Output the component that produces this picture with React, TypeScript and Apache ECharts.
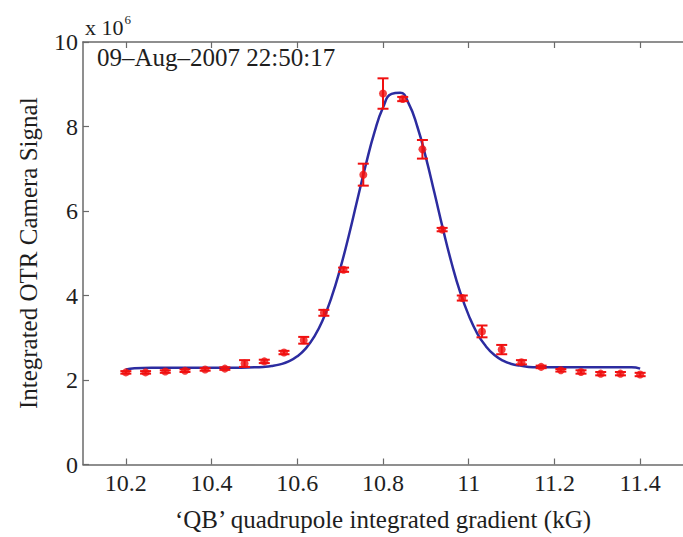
import React, { useEffect, useRef } from "react";
import * as echarts from "echarts";

// Measured points (QB gradient, kG) and signal (x 10^6) with error bars
const xData = [10.2, 10.246, 10.292, 10.338, 10.385, 10.431, 10.477, 10.523, 10.569, 10.615, 10.662, 10.708, 10.754, 10.8, 10.846, 10.892, 10.938, 10.985, 11.031, 11.077, 11.123, 11.169, 11.215, 11.262, 11.308, 11.354, 11.4];
const yData = [2.18, 2.18, 2.2, 2.22, 2.25, 2.27, 2.39, 2.44, 2.65, 2.94, 3.59, 4.61, 6.86, 8.78, 8.65, 7.46, 5.56, 3.94, 3.15, 2.72, 2.42, 2.31, 2.23, 2.19, 2.15, 2.15, 2.13];
const errData = [0.03, 0.03, 0.03, 0.03, 0.03, 0.03, 0.08, 0.04, 0.04, 0.08, 0.07, 0.05, 0.26, 0.36, 0.05, 0.22, 0.04, 0.06, 0.14, 0.11, 0.05, 0.03, 0.03, 0.04, 0.04, 0.04, 0.04];

// Fitted curve
const fitX = [10.2, 10.22, 10.26, 10.3, 10.35, 10.4, 10.45, 10.5, 10.52, 10.54, 10.56, 10.58, 10.6, 10.62, 10.64, 10.66, 10.68, 10.7, 10.72, 10.74, 10.76, 10.78, 10.8, 10.82, 10.84, 10.86, 10.88, 10.9, 10.92, 10.94, 10.96, 10.98, 11.0, 11.02, 11.04, 11.06, 11.08, 11.1, 11.12, 11.14, 11.16, 11.2, 11.25, 11.3, 11.35, 11.38, 11.4];
const fitY = [2.25, 2.28, 2.29, 2.29, 2.29, 2.29, 2.29, 2.3, 2.31, 2.33, 2.37, 2.44, 2.56, 2.75, 3.03, 3.43, 3.96, 4.63, 5.41, 6.26, 7.1, 7.86, 8.45, 8.77, 8.8, 8.54, 8.0, 7.27, 6.43, 5.57, 4.77, 4.08, 3.53, 3.1, 2.8, 2.59, 2.46, 2.38, 2.34, 2.31, 2.3, 2.3, 2.3, 2.3, 2.3, 2.3, 2.27];

const xTicks = [10.2, 10.4, 10.6, 10.8, 11.0, 11.2, 11.4];
const xTickLabels = ["10.2", "10.4", "10.6", "10.8", "11", "11.2", "11.4"];
const yTicks = [0, 2, 4, 6, 8, 10];

const title = "09–Aug–2007 22:50:17";
const xName = "‘QB’ quadrupole integrated gradient (kG)";
const yName = "Integrated OTR Camera Signal";

const FONT = "'Liberation Serif', 'Times New Roman', serif";
const RED = "#f01010";
const BLUE = "#2c2ca0";
const AXIS = "#6a6a6a";
const TEXT = "#1e1e1e";

export default function App() {
  const ref = useRef<HTMLDivElement>(null);
  useEffect(() => {
    if (!ref.current) return;
    const chart = echarts.init(ref.current, undefined, { renderer: "svg" });
    const pts = xData.map((x, i) => [x, yData[i], errData[i]]);
    const fit = fitX.map((x, i) => [x, fitY[i]]);
    const labelMap: Record<string, string> = {};
    xTicks.forEach((v, i) => (labelMap[v.toFixed(1)] = xTickLabels[i]));

    chart.setOption({
      animation: false,
      backgroundColor: "#ffffff",
      grid: { left: 83, right: -8, top: 42, bottom: 72, containLabel: false },
      xAxis: [
        {
          type: "value",
          min: 10.1,
          max: 11.5,
          position: "bottom",
          name: xName,
          nameLocation: "middle",
          nameGap: 55,
          nameTextStyle: { fontFamily: FONT, fontSize: 25, color: TEXT, verticalAlign: "middle" },
          axisLine: { show: true, onZero: false, lineStyle: { color: AXIS, width: 1.5 } },
          axisTick: { show: true, inside: true, length: 6, customValues: xTicks, lineStyle: { color: AXIS, width: 1.2 } },
          axisLabel: {
            show: true,
            customValues: xTicks,
            margin: 18,
            verticalAlign: "middle",
            fontFamily: FONT,
            fontSize: 24,
            color: TEXT,
            formatter: (v: number) => labelMap[v.toFixed(1)] ?? String(v),
          },
          splitLine: { show: false },
        },
        {
          type: "value",
          min: 10.1,
          max: 11.5,
          position: "top",
          axisLine: { show: true, onZero: false, lineStyle: { color: AXIS, width: 1.5 } },
          axisTick: { show: true, inside: true, length: 6, customValues: xTicks, lineStyle: { color: AXIS, width: 1.2 } },
          axisLabel: { show: false },
          splitLine: { show: false },
        },
      ],
      yAxis: {
        type: "value",
        min: 0,
        max: 10,
        interval: 2,
        name: yName,
        nameLocation: "middle",
        nameGap: 55,
        nameRotate: 90,
        nameTextStyle: { fontFamily: FONT, fontSize: 25, color: TEXT, verticalAlign: "middle" },
        axisLine: { show: true, lineStyle: { color: AXIS, width: 1.5 } },
        axisTick: { show: true, inside: true, length: 6, customValues: yTicks, lineStyle: { color: AXIS, width: 1.2 } },
        axisLabel: { show: true, margin: 5, fontFamily: FONT, fontSize: 24, color: TEXT },
        splitLine: { show: false },
      },
      graphic: [
        {
          type: "text",
          x: 97,
          y: 57.5,
          style: { text: title, font: `25px ${FONT}`, fill: TEXT, align: "left", verticalAlign: "middle", textAlign: "left", textVerticalAlign: "middle" },
        },
        {
          type: "text",
          x: 85,
          y: 27.5,
          style: { text: "x 10", font: `22px ${FONT}`, fill: TEXT, align: "left", verticalAlign: "middle", textAlign: "left", textVerticalAlign: "middle" },
        },
        {
          type: "text",
          x: 124.5,
          y: 19,
          style: { text: "6", font: `13px ${FONT}`, fill: TEXT, align: "left", verticalAlign: "middle", textAlign: "left", textVerticalAlign: "middle" },
        },
      ],
      series: [
        {
          type: "line",
          data: fit,
          smooth: true,
          symbol: "none",
          lineStyle: { color: BLUE, width: 2.5 },
          z: 2,
        },
        {
          type: "custom",
          data: pts,
          encode: { x: 0, y: 1 },
          z: 3,
          renderItem: (params: any, api: any) => {
            const x = api.value(0);
            const y = api.value(1);
            const e = api.value(2);
            const top = api.coord([x, y + e]);
            const bot = api.coord([x, y - e]);
            const hw = 5.5;
            const st = { stroke: RED, lineWidth: 2 };
            return {
              type: "group",
              children: [
                { type: "line", shape: { x1: top[0], y1: top[1], x2: bot[0], y2: bot[1] }, style: st },
                { type: "line", shape: { x1: top[0] - hw, y1: top[1], x2: top[0] + hw, y2: top[1] }, style: st },
                { type: "line", shape: { x1: bot[0] - hw, y1: bot[1], x2: bot[0] + hw, y2: bot[1] }, style: st },
              ],
            };
          },
        },
        {
          type: "scatter",
          data: pts.map((p) => [p[0], p[1]]),
          symbol: "circle",
          symbolSize: 8,
          itemStyle: { color: RED },
          z: 4,
        },
      ],
    });
    return () => chart.dispose();
  }, []);
  return (
    <div
      ref={ref}
      style={{ position: "fixed", left: 0, top: 0, width: 683, height: 537, background: "#fff" }}
    />
  );
}
